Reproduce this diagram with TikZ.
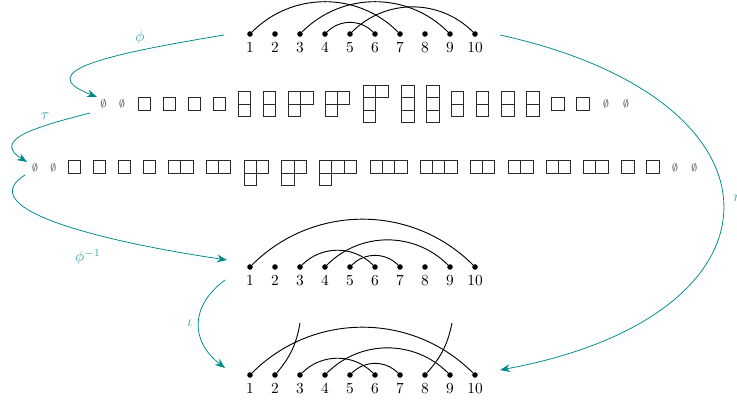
\documentclass[tikz,border=0pt]{standalone}
\usepackage{amsmath, amssymb}
\usetikzlibrary{arrows.meta}
\definecolor{MapTeal}{HTML}{008B8B}
\definecolor{BoxGray}{HTML}{2A2A2A}

% one Young diagram: left x, top y, list of row lengths
\def\cw{12.4}
\newcommand{\yshape}[3]{%
  \foreach \len [count=\r] in #3 {%
    \foreach \c in {1,...,\len} {%
      \draw[cell] ({#1+(\c-1)*\cw},{#2-(\r-1)*\cw}) rectangle ++(\cw,-\cw);
    }
  }
}

\begin{document}
\begin{tikzpicture}[x=0.65pt, y=0.65pt,
  dot/.style={circle, fill=black, inner sep=0pt, minimum size=3.6pt},
  num/.style={inner sep=0pt},
  arc/.style={semithick},
  cell/.style={line width=0.6pt, draw=BoxGray},
  empty/.style={inner sep=0pt, text=black!70, font=\scriptsize},
  mapto/.style={-{Stealth[length=6.5pt, width=5pt]}, MapTeal, line width=0.5pt},
  maplabel/.style={text=MapTeal!75, inner sep=0pt}]

\useasboundingbox (0,0) rectangle (737,401);

% three matchings
\foreach \i in {1,...,10} {
  \node[dot] (a\i) at ({225+25*\i},367) {};
  \node[num] (na\i) at ({225+25*\i},353) {$\i$};
  \node[dot] (b\i) at ({225+25*\i},134) {};
  \node[num] (nb\i) at ({225+25*\i},120) {$\i$};
  \node[dot] (c\i) at ({225+25*\i},26) {};
  \node[num] (nc\i) at ({225+25*\i},12) {$\i$};
}
\draw[arc] (a1) to[bend left=45] (a7);
\draw[arc] (a3) to[bend left=45] (a9);
\draw[arc] (a4) to[bend left=45] (a6);
\draw[arc] (a5) to[bend left=45] (a10);

\draw[arc] (b1) to[bend left=45] (b10);
\draw[arc] (b3) to[bend left=45] (b6);
\draw[arc] (b4) to[bend left=45] (b9);
\draw[arc] (b5) to[bend left=45] (b7);

\coordinate (f2) at (300,78);
\coordinate (f8) at (452,78);
\draw[arc] (c1) to[bend left=45] (c10);
\draw[arc] (c3) to[bend left=45] (c6);
\draw[arc] (c4) to[bend left=45] (c9);
\draw[arc] (c5) to[bend left=45] (c7);
\draw[arc] (c2) to[bend right=15] (f2);
\draw[arc] (c8) to[bend right=15] (f8);

% first row of tableaux (centred)
\node[empty] (e1) at (103.5,297) {$\emptyset$};
\node[empty] (e2) at (122,297) {$\emptyset$};
\foreach \x/\t/\s in {138.3/303.2/{1}, 163.3/303.2/{1}, 188.3/303.2/{1},
    213.3/303.2/{1}, 238.3/309.4/{1,1}, 263.3/309.4/{1,1}, 288.3/309.4/{2,1},
    325/309.4/{2,1}, 363.3/315.6/{2,1,1}, 401.7/315.6/{1,1,1},
    426.7/315.6/{1,1,1}, 451/309.4/{1,1}, 476/309.4/{1,1},
    501.7/309.4/{1,1}, 526.7/309.4/{1,1}, 551.7/303.2/{1}, 576.7/303.2/{1}}
  \yshape{\x}{\t}{\s};
\node[empty] (e3) at (606,297) {$\emptyset$};
\node[empty] (e4) at (626,297) {$\emptyset$};

% second row of tableaux (top aligned)
\node[empty] (e5) at (35,233.3) {$\emptyset$};
\node[empty] (e6) at (53.3,233.3) {$\emptyset$};
\foreach \x/\s in {68.3/{1}, 93.3/{1}, 118.3/{1}, 143.3/{1}, 168.3/{2},
    206/{2}, 244/{2,1}, 281.7/{2,1}, 319.3/{3,1}, 370/{3}, 420/{3},
    470/{2}, 508.3/{2}, 546/{2}, 583.3/{2}, 621.7/{1}, 646.7/{1}}
  \yshape{\x}{240.3}{\s};
\node[empty] (e7) at (675,233.3) {$\emptyset$};
\node[empty] (e8) at (694.3,233.3) {$\emptyset$};

% maps
\coordinate (phiS) at (224,366);
\coordinate (phiE) at (97,304);
\coordinate (tauS) at (90,288);
\coordinate (tauE) at (27,239);
\coordinate (invS) at (25,226);
\coordinate (invE) at (227,141);
\coordinate (iotaS) at (225,121);
\coordinate (iotaE) at (225,33);
\coordinate (etaS) at (500,366);
\coordinate (etaE) at (500,31);

\draw[mapto] (phiS) .. controls (110,347) and (30,330) .. (phiE);
\draw[mapto] (tauS) .. controls (40,275) and (-10,262) .. (tauE);
\draw[mapto] (invS) .. controls (-25,195) and (80,163) .. (invE);
\draw[mapto] (iotaS) .. controls (190,95) and (190,60) .. (iotaE);
\draw[mapto] (etaS) .. controls (800,300) and (795,85) .. (etaE);

\node[maplabel] (lphi) at (140,363) {$\phi$};
\node[maplabel] (ltau) at (45,285) {$\tau$};
\node[maplabel] (linv) at (88,144) {$\phi^{-1}$};
\node[maplabel] (liota) at (190,78) {$\iota$};
\node[maplabel, anchor=west] (leta) at (733,201) {$\eta$};
\end{tikzpicture}
\end{document}
